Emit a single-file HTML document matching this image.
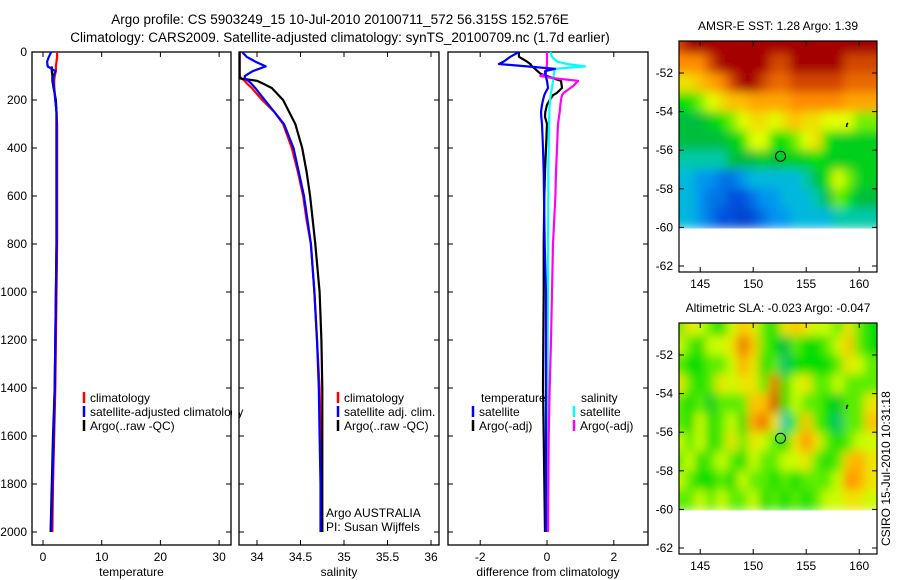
<!DOCTYPE html>
<html><head><meta charset="utf-8"><style>
html,body{margin:0;padding:0;background:#fff}
svg{display:block;font-family:"Liberation Sans",sans-serif}
</style></head><body>
<svg id="c" width="900" height="580" viewBox="0 0 900 580" xmlns="http://www.w3.org/2000/svg">
<defs>
<filter id="bl" x="0" y="0" width="1" height="1"><feGaussianBlur stdDeviation="5"/></filter>
<clipPath id="cp1"><rect x="679" y="41" width="198" height="189"/></clipPath>
<clipPath id="cp2"><rect x="679" y="323" width="198" height="191"/></clipPath>
</defs>
<text x="340" y="24" font-size="13.5" text-anchor="middle">Argo profile: CS 5903249_15 10-Jul-2010 20100711_572 56.315S 152.576E</text>
<text x="340" y="42" font-size="13.5" text-anchor="middle">Climatology: CARS2009. Satellite-adjusted climatology: synTS_20100709.nc (1.7d earlier)</text>
<g id="g"></g>
</svg>
<script>
// ---- profile data ----
const depths = [0,20,40,60,80,100,120,150,200,250,300,400,500,600,700,800,1000,1200,1400,1600,1800,2000];
const tempClim = [2.4,2.4,2.3,2.2,2.2,2.0,1.9,1.9,2.1,2.3,2.4,2.4,2.4,2.4,2.4,2.4,2.3,2.2,2.1,1.9,1.7,1.6];
const tempSat  = [1.4,1.0,0.7,0.8,2.1,1.8,1.7,1.9,2.1,2.3,2.3,2.3,2.3,2.3,2.3,2.3,2.2,2.1,2.0,1.8,1.6,1.4];
const tempArgo = [null,null,null,1.5,1.5,1.6,1.6,1.8,2.2,2.3,2.3,2.3,2.3,2.3,2.3,2.3,2.2,2.1,2.0,1.7,1.5,1.3];
const salDepths = [0,20,40,60,80,100,110,120,130,150,200,250,300,400,500,600,700,800,1000,1200,1400,1600,1800,2000];
const salClim = [33.8,33.8,33.8,33.8,33.8,33.8,33.82,33.86,33.88,33.94,34.06,34.2,34.3,34.4,34.47,34.53,34.57,34.62,34.66,34.69,34.72,34.73,34.74,34.75];
const salSat  = [33.83,33.88,33.98,34.1,33.95,33.86,33.86,33.9,33.93,33.98,34.09,34.2,34.31,34.42,34.48,34.54,34.58,34.62,34.66,34.69,34.71,34.72,34.73,34.73];
const salArgo = [33.8,33.8,33.8,33.8,33.8,33.8,33.8,34.0,34.06,34.17,34.3,34.37,34.44,34.52,34.57,34.61,34.64,34.67,34.72,34.74,34.75,34.75,34.75,34.75];
const diffDepths = [0,20,40,50,60,70,80,90,100,110,120,140,150,170,180,200,220,250,270,300,400,500,600,800,1000,1200,1400,1600,2000];
const dTempSat  = [-0.84,-1.1,-1.3,-1.44,-0.6,0.24,-0.06,-0.05,-0.03,-0.02,0,0.02,0.03,-0.05,-0.08,-0.12,-0.15,-0.18,-0.17,-0.15,-0.12,-0.1,-0.09,-0.07,-0.03,-0.03,-0.03,-0.03,-0.03];
const dTempArgo = [-0.84,-0.84,-0.6,-0.5,-0.45,-0.36,-0.28,-0.2,0,0.2,0.42,0.44,0.45,0.3,0.18,0.08,0,-0.05,-0.06,0,-0.03,-0.06,-0.08,-0.1,-0.1,-0.11,-0.12,-0.1,-0.06];
const dSalSat   = [0.1,0.15,0.3,0.6,1.14,0.24,0.22,0.21,0.2,0.19,0.18,0.16,0.15,0.12,0.11,0.09,0.08,0.07,0.07,0.06,0.05,0.04,0.04,0.03,0.03,0.02,0.02,0.01,0.0];
const dSalArgo  = [0,0,0,0,-0.01,-0.02,-0.03,-0.03,-0.2,0.24,0.93,0.8,0.7,0.5,0.45,0.42,0.4,0.38,0.36,0.33,0.3,0.27,0.25,0.18,0.15,0.12,0.08,0.05,0.03];
const depthTicks = [0,200,400,600,800,1000,1200,1400,1600,1800,2000];
const tempTicks = [0,10,20,30];
const salTicks = [34,34.5,35,35.5,36];
const diffTicks = [-2,0,2];
// ---- map data (rows = lat -51..-60, cols = lon 143..161) ----
const mapLats = [-50.5,-51.5,-52.5,-53.5,-54.5,-55.5,-56.5,-57.5,-58.5,-59.5];
const mapLons = [143,144,145,146,147,148,149,150,151,152,153,154,155,156,157,158,159,160,161];
const sst = [
[9,10,10,10,10,10,10,10,10,10,10,10,10,10,10,10,10,10,10],
[8,8,8,9,10,10,10,10,10,9,9,10,10,10,10,10,9,9,9],
[6.5,6.5,7,7.5,8,9,10,10,9,8.5,8.5,9,9,9,9,9,8.5,8.5,8.5],
[5,5,5.5,6,6.5,7,7,7.5,7.5,7.5,7.5,8,8,8,8,8,7.5,7.5,7.5],
[4,4,4,4.5,5,5.5,6,6.5,6.5,6,6.5,7,6.5,6.5,6,6,6,5.5,5.5],
[4,4,4,4,4,4.5,5,6,6,5,5,5.5,6,6.5,5,4.5,4.5,4.5,4.5],
[3.5,3.5,3.5,3.5,3.5,4,4,4,4.5,4,4.5,4.5,4.5,5,4.5,4.5,4.5,4.5,4.5],
[3,3,2.5,2.5,2,2,2.5,3,3,3,3,3,3.5,4,5,6,5.5,4.5,4.5],
[3,3,2.5,2,2,1.5,1.5,2,2.5,2.5,3,3,3,3.5,4,5.5,5,4,4],
[3,3,2.5,2,1.5,1.5,1,1.5,2,2.5,2.5,3,3,3,3,3.5,3.5,3.5,3.5]];
const sla = [
[5.4,6.4,5.9,5.4,4.9,5.9,6.9,6.4,5.4,4.9,6.4,6.9,6.4,5.9,5.9,5.4,6.4,5.4,4.9],
[5.9,5.4,4.9,5.9,5.9,6.4,8.4,6.9,5.4,4.9,4,5.4,4.9,4.9,5.4,5.9,6.9,5.4,4.9],
[5.4,4.9,4.9,5.4,5.4,5.9,7.4,6.4,4.9,5.4,3.8,4.9,4.9,4.9,4.9,5.4,6.4,5.9,5.4],
[6.4,5.4,4.9,5.4,6.4,5.9,6.4,6.4,5.4,8.4,4.9,5.9,6.4,5.4,5.4,5.9,5.4,5.4,5.4],
[5.4,4.9,5.4,4.4,5.4,5.4,5.4,6.9,6.9,8.9,4.9,5.9,5.4,5.4,4.9,4.4,5.4,5.4,6.4],
[5.4,4.9,5.9,4.9,5.4,5.9,4.9,7.4,8.4,6.4,3.5,5.4,6.9,5.4,4.9,3.8,5.4,5.4,6.9],
[5.9,5.4,5.9,4.9,5.4,6.4,5.4,6.4,5.9,5.4,4.9,6.4,7.9,6.4,5.4,4.9,5.4,5.9,5.9],
[5.4,5.9,4.9,5.4,5.9,5.4,4.9,5.9,5.4,5.4,5.9,5.9,6.4,5.4,4.9,5.4,6.9,7.4,6.4],
[5.9,5.4,4.9,4.9,5.4,4.9,5.9,5.4,5.4,4.9,5.4,4.9,5.4,5.4,5.4,5.9,7.9,7.4,6.4],
[5.4,5.4,5.9,5.4,5.9,5.4,5.4,5.9,4.9,5.4,4.9,5.4,4.9,5.4,5.9,5.9,6.4,6.4,5.9]];
const latTicks = [-52,-54,-56,-58,-60,-62];
const lonTicks = [145,150,155,160];

const NS='http://www.w3.org/2000/svg';
const G=document.getElementById('g');
function mk(tag,attrs,parent){const e=document.createElementNS(NS,tag);for(const k in attrs)e.setAttribute(k,attrs[k]);(parent||G).appendChild(e);return e;}
const TOP=52, BOT=545;
const yD = d => TOP + d*0.24;

function panel(name,x0,x1,xs,ticks,label,fmt){
  const g=mk('g',{});
  
  
  const r=mk('rect',{x:x0,y:TOP,width:x1-x0,height:BOT-TOP,fill:'none',stroke:'#000','stroke-width':1.3},g);
  
  
  ticks.forEach(t=>{const x=xs(t);
    mk('line',{x1:x,x2:x,y1:BOT,y2:BOT-5,stroke:'#000'},g);
    mk('line',{x1:x,x2:x,y1:TOP,y2:TOP+5,stroke:'#000'},g);
    const tx=mk('text',{x:x,y:BOT+16,'font-size':12,'text-anchor':'middle'},g);tx.textContent=fmt?fmt(t):t;
    
    
  });
  depthTicks.forEach(d=>{const y=yD(d);
    mk('line',{x1:x0,x2:x0+5,y1:y,y2:y,stroke:'#000'},g);
    mk('line',{x1:x1,x2:x1-5,y1:y,y2:y,stroke:'#000'},g);
  });
  const lt=mk('text',{x:(x0+x1)/2,y:BOT+31,'font-size':12,'text-anchor':'middle'},g);lt.textContent=label;
  
  
  return g;
}
function line(name,dep,vals,xs,color,w){
  let d='';let pen=false;
  vals.forEach((v,i)=>{if(v===null){pen=false;return;}d+=(pen?'L':'M')+xs(v).toFixed(1)+','+yD(dep[i]).toFixed(1)+' ';pen=true;});
  const p=mk('path',{d:d,fill:'none',stroke:color,'stroke-width':w||2.2,'stroke-linejoin':'round'});
  
  
}
function legend(name,x,y,color,text){
  if(color)mk('line',{x1:x,x2:x,y1:y-10,y2:y+1,stroke:color,'stroke-width':2.5});
  const t=mk('text',{x:x+6,y:y,'font-size':12});t.textContent=text;
  
  
}
const xT=v=>43+v*5.87;
panel('temperature-panel',32,231,xT,tempTicks,'temperature');
depthTicks.forEach(d=>{const t=mk('text',{x:27,y:yD(d)+4,'font-size':12,'text-anchor':'end'});t.textContent=d;
  
  });
line('temp-climatology-line',depths,tempClim,xT,'#f00');
line('temp-argo-line',depths,tempArgo,xT,'#000');
line('temp-satellite-line',depths,tempSat,xT,'#00f');
legend('legend-climatology',84,402,'#f00','climatology');
legend('legend-satellite-adjusted',84,416,'#00f','satellite-adjusted climatology');
legend('legend-argo',84,430,'#000','Argo(..raw -QC)');
mk('rect',{x:232,y:380,width:7,height:60,fill:'#fff'});
const xS=v=>257+(v-34)*87;
panel('salinity-panel',239,439,xS,salTicks,'salinity');
line('sal-climatology-line',salDepths,salClim,xS,'#f00');
line('sal-argo-line',salDepths,salArgo,xS,'#000');
line('sal-satellite-line',salDepths,salSat,xS,'#00f');
legend('legend-sal-climatology',338,402,'#f00','climatology');
legend('legend-sal-satellite',338,416,'#00f','satellite adj. clim.');
legend('legend-sal-argo',338,430,'#000','Argo(..raw -QC)');
legend('argo-australia-label',320,517,null,'Argo AUSTRALIA');
legend('pi-label',320,531,null,'PI: Susan Wijffels');
const xD=v=>547+v*33.4;
panel('difference-panel',448,648,xD,diffTicks,'difference from climatology',t=>t<0?'-'+Math.abs(t):t);
line('diff-temp-argo-line',diffDepths,dTempArgo,xD,'#000');
line('diff-sal-satellite-line',diffDepths,dSalSat,xD,'#0ff');
line('diff-sal-argo-line',diffDepths,dSalArgo,xD,'#f0f');
line('diff-temp-satellite-line',diffDepths,dTempSat,xD,'#00f');
legend('legend-temperature-heading',475,402,null,'temperature');
legend('legend-temp-satellite',473,416,'#00f','satellite');
legend('legend-temp-argo',473,430,'#000','Argo(-adj)');
legend('legend-salinity-heading',575,402,null,'salinity');
legend('legend-sal-sat',574,416,'#0ff','satellite');
legend('legend-sal-argo-adj',574,430,'#f0f','Argo(-adj)');

const stops=[[0,[0,40,170]],[1.5,[0,80,220]],[2.5,[0,150,240]],[3.3,[0,205,210]],[4,[0,190,60]],[5,[0,225,0]],[6,[225,255,0]],[7,[255,190,0]],[8,[255,140,0]],[9,[210,70,0]],[10,[165,0,0]]];
function cmap(v){for(let i=1;i<stops.length;i++){if(v<=stops[i][0]){const a=stops[i-1],b=stops[i],t=(v-a[0])/(b[0]-a[0]);const c=a[1].map((x,j)=>Math.round(x+(b[1][j]-x)*t));return 'rgb('+c+')';}}return 'rgb(165,0,0)';}

function map(name,top,title,grid,clipId){
  const lx=v=>679+(v-143)*10.6, ly=v=>top+32+(-52-v)*19.3;
  const tt=mk('text',{x:778,y:top-11,'font-size':12,'text-anchor':'middle'});tt.textContent=title;
  
  
  const cg=mk('g',{'clip-path':'url(#'+clipId+')'});
  const hg=mk('g',{filter:'url(#bl)'},cg);
  
  
  grid.forEach((row,i)=>row.forEach((v,j)=>{
    const x=lx(mapLons[j])-5.3, y=ly(mapLats[i])-9.65;
    mk('rect',{x:x-(j==0?20:0),y:y-(i==0?20:0),width:10.6+1+(j==0?20:0)+(j==row.length-1?20:0),height:19.3+1+(i==0?20:0),fill:cmap(v)},hg);
  }));
  const f=mk('rect',{x:679,y:top,width:198,height:ly(-62)+6-top,fill:'none',stroke:'#000','stroke-width':1.2});
  
  
  latTicks.forEach(l=>{const y=ly(l);
    mk('line',{x1:877,x2:872,y1:y,y2:y,stroke:'#000'});mk('line',{x1:679,x2:684,y1:y,y2:y,stroke:'#000'});
    const t=mk('text',{x:673,y:y+4,'font-size':12,'text-anchor':'end'});t.textContent=l;
    
    });
  const bot=ly(-62)+6;
  lonTicks.forEach(l=>{const x=lx(l);
    mk('line',{x1:x,x2:x,y1:top,y2:top+5,stroke:'#000'});mk('line',{x1:x,x2:x,y1:bot,y2:bot-5,stroke:'#000'});
    const t=mk('text',{x:x,y:bot+16,'font-size':12,'text-anchor':'middle'});t.textContent=l;
    
    });
  const c=mk('circle',{cx:lx(152.576),cy:ly(-56.315),r:5,fill:'none',stroke:'#000','stroke-width':1});
  
  
  mk('path',{d:'M'+lx(158.8)+','+ly(-54.8)+' l0.5,-3 l1,-1',stroke:'#000','stroke-width':1.5,fill:'none'});
}
map('sst-map',41,'AMSR-E SST: 1.28 Argo: 1.39',sst,'cp1');
map('sla-map',323,'Altimetric SLA: -0.023 Argo: -0.047',sla,'cp2');
const v=mk('text',{x:0,y:0,'font-size':12,transform:'translate(890,546) rotate(-90)'});
v.textContent='CSIRO 15-Jul-2010 10:31:18';


</script>
</body></html>
